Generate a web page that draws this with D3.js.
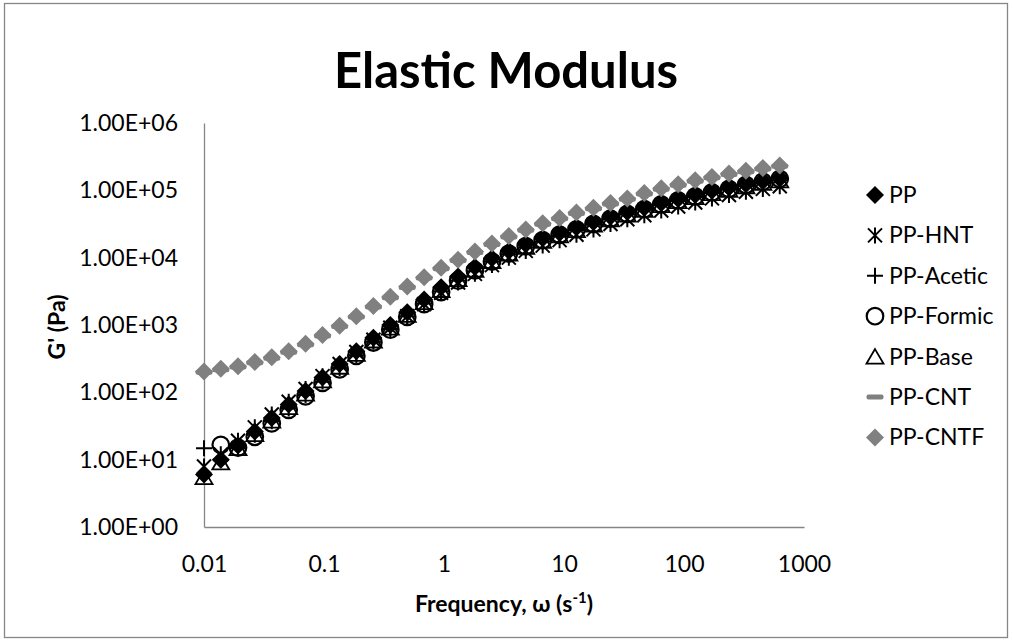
<!DOCTYPE html>
<html>
<head>
<meta charset="utf-8">
<script src="https://cdn.jsdelivr.net/npm/d3@7"></script>
<style>
  body { margin: 0; background: #fff; }
  svg { font-family: Lato, "Open Sans", sans-serif; }
</style>
</head>
<body>
<div id="chart"></div>
<script>
// frequency sweep points (rad/s)
const freq = [0.01, 0.0138, 0.0192, 0.0265, 0.0367, 0.0508, 0.0702, 0.0972, 0.135, 0.186,
  0.258, 0.357, 0.494, 0.683, 0.946, 1.31, 1.81, 2.51, 3.47, 4.80, 6.64, 9.19, 12.7, 17.6,
  24.4, 33.7, 46.7, 64.6, 89.4, 124, 171, 237, 328, 454, 628];

// G' (Pa) per sample
const ppVals = [6.0, 10.0, 16.2, 26.3, 41.7, 66.1, 105, 166, 263, 407, 646, 1000, 1550, 2400,
  3630, 5250, 7240, 9770, 12600, 15800, 19500, 23400, 28200, 33900, 40700, 47900, 56200,
  66100, 75900, 87100, 100000, 112000, 126000, 141000, 155000];
const hntVals = [7.9, 12.0, 19.1, 30.2, 46.8, 72.4, 112, 174, 263, 398, 603, 912, 1350, 2040,
  3020, 4270, 5750, 7760, 10000, 12600, 15100, 18200, 21900, 26300, 31600, 37200, 42700,
  50100, 57500, 66100, 75900, 85100, 95500, 105000, 115000];
const aceticVals = [14.8, 10.0, 14.8, 23.4, 37.2, 57.5, 91.2, 145, 229, 355, 562, 871, 1350,
  2090, 3160, 4570, 6310, 8710, 11200, 14100, 17400, 20900, 25700, 30900, 37200, 43700,
  51300, 60300, 69200, 79400, 91200, 102000, 115000, 129000, 141000];
const formicVals = [null, 16.6, 15.1, 21.9, 34.7, 55.0, 87.1, 138, 219, 347, 550, 851, 1320,
  2040, 3090, 4570, 6460, 8710, 11500, 14800, 18200, 21900, 26300, 31600, 38000, 44700,
  52500, 61700, 70800, 81300, 93300, 105000, 120000, 135000, 148000];
const baseVals = [5.5, 9.1, 14.8, 24.0, 38.0, 60.3, 95.5, 151, 240, 372, 589, 912, 1410, 2190,
  3310, 4790, 6610, 8910, 11500, 14500, 17800, 21400, 25700, 30900, 37200, 43700, 51300,
  60300, 69200, 79400, 91200, 102000, 115000, 129000, 141000];
const cntVals = [198, 217, 238, 274, 321, 395, 509, 687, 948, 1310, 1850, 2550, 3600, 4980,
  6870, 9050, 11900, 15700, 20300, 25500, 31400, 37700, 45400, 53300, 62600, 73600, 88500,
  104000, 119000, 137000, 154000, 172000, 189000, 207000, 227000];
const cntfVals = [204, 224, 245, 282, 331, 407, 525, 708, 977, 1350, 1910, 2630, 3720, 5130,
  7080, 9330, 12300, 16200, 20900, 26300, 32400, 38900, 46800, 55000, 64600, 75900, 91200,
  107000, 123000, 141000, 158000, 178000, 195000, 214000, 234000];

const seriesNames = ["PP", "PP-HNT", "PP-Acetic", "PP-Formic", "PP-Base", "PP-CNT", "PP-CNTF"];
const seriesVals = [ppVals, hntVals, aceticVals, formicVals, baseVals, cntVals, cntfVals];
const seriesMarks = ["diamond", "asterisk", "plus", "circle", "triangle", "dash", "diamondGray"];

const xTicks = [0.01, 0.1, 1, 10, 100, 1000];
const xTickLabels = ["0.01", "0.1", "1", "10", "100", "1000"];
const yTicks = [1, 10, 100, 1000, 10000, 100000, 1000000];
const yTickLabels = ["1.00E+00", "1.00E+01", "1.00E+02", "1.00E+03", "1.00E+04", "1.00E+05", "1.00E+06"];

const width = 1013, height = 643;
const axisColor = "#868686";
const grey = "#808080";

const svg = d3.select("#chart").append("svg")
  .attr("width", width)
  .attr("height", height);

// chart border
svg.append("rect")
  .attr("x", 4.5).attr("y", 3.5)
  .attr("width", 1003).attr("height", 634)
  .attr("fill", "#fff")
  .attr("stroke", axisColor)
  .attr("stroke-width", 1.3);

const x = d3.scaleLog().domain([0.01, 1000]).range([204, 804]);
const y = d3.scaleLog().domain([1, 1e6]).range([527, 123]);

// axes
const xAxis = svg.append("g")
  .attr("transform", `translate(0,${y(1)})`)
  .call(d3.axisBottom(x).tickValues(xTicks).tickSize(0).tickPadding(29)
    .tickFormat((d, i) => xTickLabels[i]));
const yAxis = svg.append("g")
  .attr("transform", `translate(${x(0.01)},0)`)
  .call(d3.axisLeft(y).tickValues(yTicks).tickSize(0).tickPadding(26)
    .tickFormat((d, i) => yTickLabels[i]));

[xAxis, yAxis].forEach(g => {
  g.select(".domain").attr("stroke", axisColor).attr("stroke-width", 1.3);
  g.selectAll("text").attr("font-size", 23).attr("fill", "#000")
    .attr("font-family", "Lato, sans-serif");
});

// titles
svg.append("text")
  .attr("x", 506).attr("y", 88)
  .attr("text-anchor", "middle")
  .attr("font-size", 49).attr("font-weight", "bold")
  .text("Elastic Modulus");

const xTitle = svg.append("text")
  .attr("x", 504).attr("y", 612)
  .attr("text-anchor", "middle")
  .attr("font-size", 23).attr("font-weight", "bold");
xTitle.append("tspan").text("Frequency, ω (s");
xTitle.append("tspan").attr("font-size", 15).attr("dy", -9).text("-1");
xTitle.append("tspan").attr("dy", 9).text(")");

svg.append("text")
  .attr("transform", "translate(65,327) rotate(-90)")
  .attr("text-anchor", "middle")
  .attr("font-size", 23).attr("font-weight", "bold")
  .text("G' (Pa)");

// marker drawing
function drawMarker(g, kind) {
  if (kind === "diamond" || kind === "diamondGray") {
    g.append("path").attr("d", "M0,-9L9,0L0,9L-9,0Z")
      .attr("fill", kind === "diamond" ? "#000" : grey);
  } else if (kind === "asterisk") {
    g.append("path").attr("d", "M-7,-7L7,7M-7,7L7,-7M0,-8L0,8")
      .attr("stroke", "#000").attr("stroke-width", 2).attr("fill", "none");
  } else if (kind === "plus") {
    g.append("path").attr("d", "M-8,0L8,0M0,-8L0,8")
      .attr("stroke", "#000").attr("stroke-width", 2).attr("fill", "none");
  } else if (kind === "circle") {
    g.append("circle").attr("r", 8.3)
      .attr("stroke", "#000").attr("stroke-width", 2.2).attr("fill", "none");
  } else if (kind === "triangle") {
    g.append("path").attr("d", "M0,-7.5L8.5,7L-8.5,7Z")
      .attr("stroke", "#000").attr("stroke-width", 1.8).attr("fill", "none");
  } else if (kind === "dash") {
    g.append("rect").attr("x", -8.5).attr("y", -2.5).attr("width", 17).attr("height", 5)
      .attr("rx", 2).attr("fill", grey);
  }
}

// series
seriesVals.forEach((vals, si) => {
  const pts = freq.map((f, i) => ({ f: f, v: vals[i] })).filter(d => d.v != null);
  svg.append("g").attr("class", "series")
    .selectAll("g")
    .data(pts)
    .enter().append("g")
    .attr("transform", d => `translate(${x(d.f)},${y(d.v)})`)
    .each(function() { drawMarker(d3.select(this), seriesMarks[si]); });
});

// legend
const legend = svg.selectAll(".legend")
  .data(seriesNames)
  .enter().append("g")
  .attr("class", "legend")
  .attr("transform", (d, i) => `translate(875,${195 + i * 40.4})`);

legend.each(function(d, i) { drawMarker(d3.select(this), seriesMarks[i]); });

legend.append("text")
  .attr("x", 14)
  .attr("dy", "0.35em")
  .attr("font-size", 23)
  .text(d => d);
</script>
</body>
</html>
